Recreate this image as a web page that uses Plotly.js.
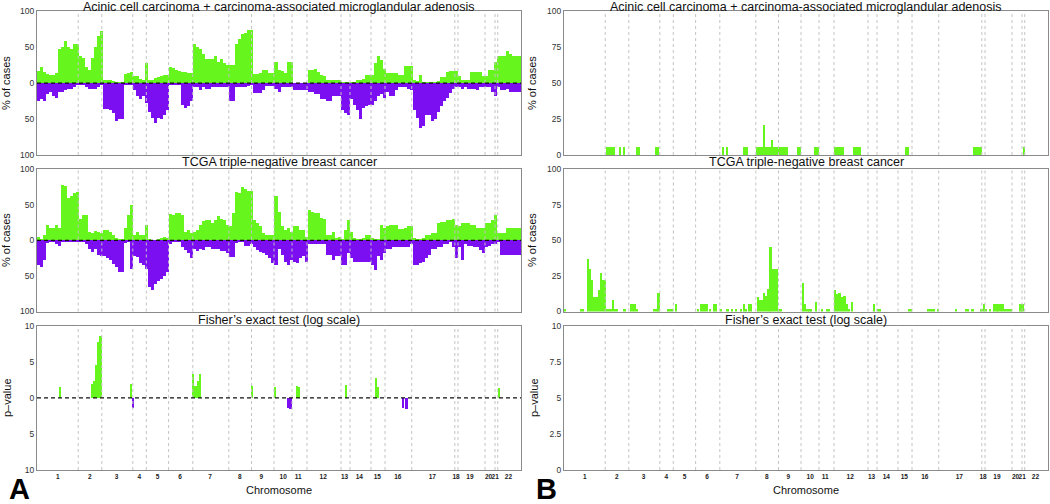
<!DOCTYPE html>
<html><head><meta charset="utf-8">
<script src="https://cdn.plot.ly/plotly-3.0.1.min.js"></script>
<style>html,body{margin:0;padding:0;background:#fff}#chart{width:1050px;height:504px}</style>
</head><body><div id="chart"></div>
<script>
// ---- data (genome split into equal bins; x unit = bin index) ----
const nBins = 161;
const chromBounds = [13.71,21.56,31.87,36.36,43.78,51.83,63.81,71.36,78.84,84.83,89.82,101.13,104.12,111.11,115.77,124.65,138.99,140.05,149.03,152.36,153.26];
const chromTickPos = [6.9,17.6,26.5,34.0,40.1,47.6,57.6,67.5,74.6,81.9,86.9,95.2,102.3,107.2,113.2,120.0,131.5,139.4,144.0,150.2,152.4,156.8];
const chromTickText = ['1','2','3','4','5','6','7','8','9','10','11','12','13','14','15','16','17','18','19','20','21','22'];

// Acinic cell carcinoma + MGA: % of cases with gain / loss per bin
const accGain = [17,22,15,13,12,11,14,47,50,58,50,48,55,55,
38,35,22,18,35,50,65,72,
5,5,5,3,2,2,2,13,14,16,
10,10,6,5,28,
5,4,7,8,10,12,12,
22,21,19,17,15,16,14,14,
55,50,48,40,33,33,33,38,30,34,28,25,
25,25,55,62,68,70,74,74,
13,13,14,19,19,14,14,30,18,17,14,30,30,
0,0,0,0,0,
18,18,20,16,12,10,5,5,4,4,
4,2,2,2,2,2,4,4,6,12,
12,12,28,38,32,20,14,14,14,14,
12,12,24,24,24,5,3,12,2,2,
2,2,2,3,8,8,15,17,17,17,
10,4,4,4,16,16,16,16,10,10,
18,18,30,38,38,38,45,40,38,38,
38];
const accLoss = [25,22,25,15,13,18,20,13,13,10,8,8,5,3,
3,3,5,8,8,8,5,3,
36,36,38,42,52,50,50,3,3,3,
10,18,22,18,28,
40,48,55,48,50,45,38,
3,3,3,3,30,35,32,25,
5,5,10,5,8,8,5,5,5,5,5,5,
25,25,5,5,5,5,4,3,
14,14,14,
10,4,4,4,8,12,5,5,5,5,10,10,10,10,10,
12,12,15,15,22,22,25,25,18,18,
18,38,42,45,22,30,38,50,35,32,
30,30,25,18,15,20,12,18,18,10,
5,5,5,8,10,38,48,62,60,45,
45,52,50,40,32,25,20,14,8,5,
5,8,5,8,8,8,10,5,5,5,
5,12,18,5,10,10,8,12,12,12,
12];

// TCGA triple-negative breast cancer
const tcgaGain = [5,2,8,22,18,18,22,18,78,76,60,62,67,68,
30,35,36,12,10,13,12,10,
15,14,12,8,4,2,2,18,36,50,
8,12,8,8,22,
2,1,1,2,4,5,3,
37,36,38,39,35,12,14,10,
12,14,22,27,29,28,25,28,34,30,28,22,
20,38,68,66,75,72,70,70,
28,25,20,10,8,8,8,62,40,20,15,17,12,
20,20,15,14,5,
42,40,38,38,32,30,8,8,12,3,
5,2,14,28,12,3,2,2,4,8,
8,3,2,2,22,18,20,22,22,22,
16,16,17,20,20,3,2,2,3,8,
8,10,10,24,26,26,28,28,30,22,
20,24,24,24,22,22,18,18,18,25,
25,28,35,10,10,10,18,18,18,18,
18];
const tcgaLoss = [35,37,28,4,3,3,5,8,2,2,2,2,2,2,
3,2,5,12,17,12,20,22,
22,25,28,33,38,45,45,4,3,40,
22,24,32,35,40,
65,70,62,57,55,50,45,
5,3,2,2,10,14,18,25,
12,15,12,14,10,10,12,12,12,15,15,18,
24,24,4,3,3,8,8,5,
10,14,16,18,20,25,32,35,12,20,30,35,28,
30,32,25,22,30,
5,5,5,5,5,5,20,20,28,22,
22,35,35,18,25,30,30,30,30,30,
30,35,42,22,28,18,12,12,10,10,
10,10,10,10,5,35,35,32,30,25,
20,12,12,10,10,5,5,3,10,25,
10,28,5,8,8,10,10,14,18,10,
8,5,5,2,20,20,20,20,20,20,
20];

// Fisher's exact test (-log10 p), by genome position (bin units)
const fisherGainPos = [7.65,18.36,19.13,19.79,20.39,21.12,31.27,52.0,52.73,53.49,54.22,71.46,79.17,86.39,87.09,102.86,112.77,113.5,153.66];
const fisherGainVal = [1.5,1.95,2.4,4.5,7.8,8.6,1.9,3.35,1.65,2.35,3.3,1.6,1.5,1.65,1.5,1.75,2.7,1.5,1.4];
const fisherLossPos = [32.0,83.5,84.33,121.66,122.92];
const fisherLossVal = [1.35,1.35,1.5,1.35,1.5];

// Panel B: focal amplifications (% of cases), by genome position (bin units)
const ampAccPos = [14.35,15.05,15.75,16.45,18.6,20.0,24.3,25.0,30.6,31.3,52.85,54.25,60.0,60.7,64.3,65.0,65.7,66.45,67.15,67.85,68.55,69.25,69.95,70.65,71.35,72.05,72.75,73.45,74.15,77.8,78.5,83.6,84.3,90.1,90.8,91.5,92.2,92.9,96.5,97.2,97.9,98.6,113.7,114.4,136.5,137.2,137.9,138.6,153.0];
const ampAccVal = [5.3,5.3,5.3,5.3,5.3,5.3,5.3,5.3,5.3,5.3,5.3,5.3,5.3,5.3,5.3,5.3,5.3,21.1,5.3,5.3,5.3,10.5,5.3,5.3,5.3,5.3,5.3,5.3,5.3,5.3,5.3,5.3,5.3,5.3,5.3,5.3,5.3,5.3,5.3,5.3,5.3,5.3,5.3,5.3,5.3,5.3,5.3,5.3,5.3];
const ampTcgaPos = [0.45,5.65,6.35,7.9,8.65,9.4,10.1,10.8,11.6,12.25,12.85,13.55,14.25,14.95,15.6,16.25,16.95,17.65,20.1,22.3,23.0,23.55,24.15,30.1,30.8,31.45,34.5,35.2,35.9,37.2,44.65,45.55,46.25,46.95,47.65,48.65,49.95,50.6,52.2,54.4,55.75,57.15,58.95,59.8,60.65,61.45,62.15,64.55,65.3,65.95,66.5,67.3,68.0,68.7,69.45,70.1,70.75,71.45,72.1,79.45,80.25,81.0,81.65,82.3,83.7,85.85,87.35,88.05,90.15,90.85,91.65,92.45,93.3,94.2,94.85,95.85,103.2,104.35,105.05,114.65,115.35,120.95,121.65,122.35,123.05,124.5,130.35,133.75,134.45,135.9,138.9,139.6,140.4,141.75,143.15,143.85,144.55,145.25,145.9,146.6,147.3,148.0,148.7,151.85,152.5];
const ampTcgaVal = [2,2,2,37,30,22,10,10,15,27,22,22,2,2,2,8,2,2,2,5,5,5,2,2,2,13,2,2,2,5,2,5,5,5,5,2,5,5,2,2,2,2,2,5,2,5,5,10,8,8,13,11,16,45,30,30,30,2,2,20,5,2,2,2,7,2,2,2,15,12,13,10,11,5,2,7,5,2,2,2,2,2,2,2,2,2,2,2,2,2,2,5,2,2,5,5,5,5,5,2,2,2,2,5,5];

// ---- styling ----
const GREEN = '#66f51c', PURPLE = '#7c0ef2';
const FONT = 'Liberation Sans, Arial, Helvetica, sans-serif';
const W = 1050, H = 504;
const fx = p => p / W, fy = p => 1 - p / H;
const domL = [fx(37), fx(521)], domR = [fx(564), fx(1048)];
const domTop = [fy(155), fy(11.3)], domMid = [fy(311.5), fy(169.2)], domBot = [fy(470), fy(325.7)];

const binX = Array.from({length: nBins}, (_, i) => i + 0.5);
const neg = a => a.map(v => -v);

function bar(x, y, color, xa, ya, width) {
  return {type: 'bar', x: x, y: y, width: width, xaxis: xa, yaxis: ya,
    marker: {color: color, line: {width: 0}}, hoverinfo: 'skip', showlegend: false};
}

const data = [
  bar(binX, accGain, GREEN, 'x', 'y', 1),
  bar(binX, neg(accLoss), PURPLE, 'x', 'y', 1),
  bar(binX, tcgaGain, GREEN, 'x2', 'y2', 1),
  bar(binX, neg(tcgaLoss), PURPLE, 'x2', 'y2', 1),
  bar(fisherGainPos, fisherGainVal, GREEN, 'x3', 'y3', 0.72),
  bar(fisherLossPos, neg(fisherLossVal), PURPLE, 'x3', 'y3', 0.72),
  bar(ampAccPos, ampAccVal, GREEN, 'x4', 'y4', 0.72),
  bar(ampTcgaPos, ampTcgaVal, GREEN, 'x5', 'y5', 0.72),
  {type: 'scatter', x: [], y: [], xaxis: 'x6', yaxis: 'y6', showlegend: false}
];

const frame = {showline: true, mirror: true, linecolor: '#8a8a8a', linewidth: 1,
  showgrid: false, zeroline: false, fixedrange: true};
function xax(dom, anchor, labels) {
  return Object.assign({}, frame, {domain: dom, anchor: anchor, range: [0, nBins],
    tickmode: 'array', tickvals: chromTickPos, ticktext: chromTickText,
    showticklabels: labels, ticks: '', tickangle: 0,
    tickfont: {family: FONT, size: 6.5, color: '#222', weight: 'bold'}});
}
function yax(dom, anchor, range, vals, text) {
  return Object.assign({}, frame, {domain: dom, anchor: anchor, range: range,
    tickmode: 'array', tickvals: vals, ticktext: text, ticks: '',
    tickfont: {family: FONT, size: 8.5, color: '#333'}});
}
const pctVals = [-100, -50, 0, 50, 100], pctText = ['100', '50', '0', '50', '100'];
const pVals = [-10, -5, 0, 5, 10], pText = ['10', '5', '0', '5', '10'];

const axes = [['x','y'],['x2','y2'],['x3','y3'],['x4','y4'],['x5','y5'],['x6','y6']];
const shapes = [];
axes.forEach(([xa, ya]) => {
  chromBounds.forEach(b => shapes.push({type: 'line', xref: xa, yref: ya + ' domain',
    x0: b, x1: b, y0: 0, y1: 1, layer: 'above',
    line: {color: '#c4c4c4', width: 1, dash: '3px,3px'}}));
});
['y', 'y2', 'y3'].forEach((ya, i) => shapes.push({type: 'line', xref: ['x','x2','x3'][i] + ' domain', yref: ya,
  x0: 0, x1: 1, y0: 0, y1: 0, layer: 'above', line: {color: '#111', width: 1.4, dash: '4px,3px'}}));

const titleTop = 'Acinic cell carcinoma + carcinoma-associated microglandular adenosis';
const titleMid = 'TCGA triple-negative breast cancer';
const titleBot = 'Fisher\u2019s exact test (log scale)';
const ann = [];
function text(t, x, y, size, opts) {
  ann.push(Object.assign({text: t, xref: 'paper', yref: 'paper', x: fx(x), y: fy(y),
    xanchor: 'center', yanchor: 'middle', showarrow: false,
    font: {family: FONT, size: size, color: '#111'}}, opts || {}));
}
[279, 806].forEach(cx => {
  text(titleTop, cx, 7, 12.5);
  text(titleMid, cx, 162, 12.5);
  text(titleBot, cx, 320, 12.5);
  text('Chromosome', cx, 490, 11);
});
[[6, 83, '% of cases'], [6, 240, '% of cases'], [7, 398, 'p\u2013value'],
 [532, 83, '% of cases'], [532, 240, '% of cases'], [534, 398, 'p\u2013value']].forEach(([x, y, t]) =>
  text(t, x, y, 11, {textangle: -90}));
text('A', 19, 489, 29, {font: {family: FONT, size: 29, color: '#000', weight: 'bold'}});
text('B', 546, 489, 29, {font: {family: FONT, size: 29, color: '#000', weight: 'bold'}});

const layout = {
  width: W, height: H, margin: {l: 0, r: 0, t: 0, b: 0},
  paper_bgcolor: '#fff', plot_bgcolor: '#fff', barmode: 'overlay', bargap: 0,
  showlegend: false, font: {family: FONT},
  xaxis: xax(domL, 'y', false), yaxis: yax(domTop, 'x', [-100, 100], pctVals, pctText),
  xaxis2: xax(domL, 'y2', false), yaxis2: yax(domMid, 'x2', [-100, 100], pctVals, pctText),
  xaxis3: xax(domL, 'y3', true), yaxis3: yax(domBot, 'x3', [-10, 10], pVals, pText),
  xaxis4: xax(domR, 'y4', false), yaxis4: yax(domTop, 'x4', [0, 100], [0, 25, 50, 75, 100], ['0', '25', '50', '75', '100']),
  xaxis5: xax(domR, 'y5', false), yaxis5: yax(domMid, 'x5', [0, 100], [0, 25, 50, 75, 100], ['0', '25', '50', '75', '100']),
  xaxis6: xax(domR, 'y6', true), yaxis6: yax(domBot, 'x6', [0, 10], [0, 2.5, 5, 7.5, 10], ['0', '2.5', '5', '7.5', '10']),
  shapes: shapes, annotations: ann
};
Plotly.newPlot('chart', data, layout, {displayModeBar: false, staticPlot: true});
</script>
</body></html>
